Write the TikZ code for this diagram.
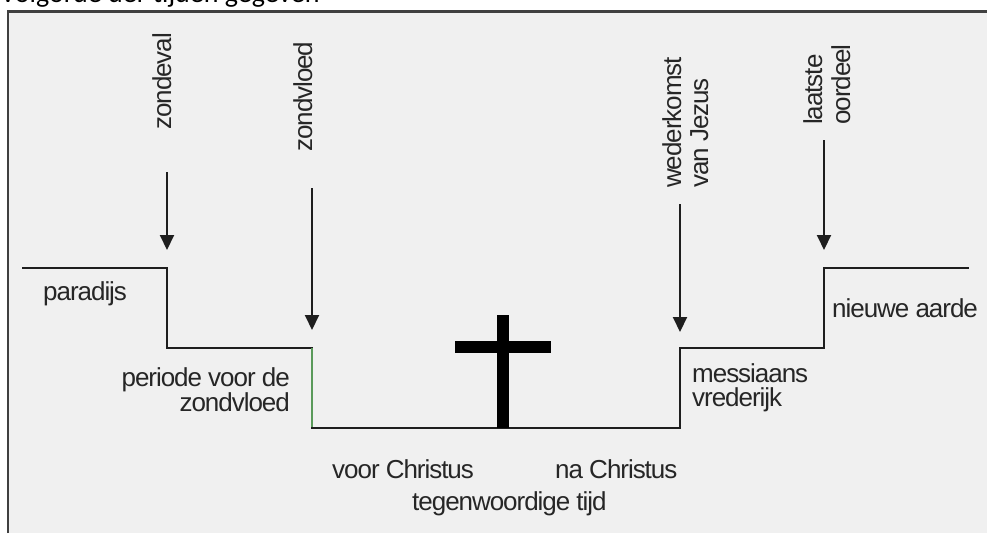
\documentclass[tikz,border=0pt]{standalone}
\usepackage{fontspec}
\setmainfont{Liberation Sans}
\newfontfamily\lbl{Liberation Sans}[LetterSpace=-4.0]
\newfontfamily\ttl{Carlito}
\usetikzlibrary{arrows.meta}
\definecolor{bg}{HTML}{F0F0F0}
\definecolor{framec}{HTML}{404040}
\definecolor{ink}{HTML}{1E1E1E}
\definecolor{txt}{HTML}{262626}
\definecolor{greenseg}{HTML}{5A9A5A}
\begin{document}
\begin{tikzpicture}[x=1pt,y=-1pt,
  lab/.style={font=\lbl\fontsize{26}{30}\selectfont, text=txt, inner sep=0pt, anchor=base west},
  labr/.style={lab, anchor=base east},
  vlab/.style={lab, rotate=90},
  stepline/.style={draw=ink, line width=2pt, line cap=rect},
  event/.style={draw=ink, line width=2pt, -{Triangle[width=14pt,length=15pt]}},
  crossbar/.style={fill=black, inner sep=0pt, draw=none},
]
\useasboundingbox (0,0) rectangle (987,533);
\fill[white] (0,0) rectangle (987,533);
\fill[bg] (8,11) rectangle (987,533);
\begin{scope}
\clip (0,0) rectangle (987,10);
\node[font=\ttl\fontsize{28}{32}\selectfont, text=black, inner sep=0pt, anchor=base west] (title) at (0,2) {Volgorde der tijden gegeven};
\end{scope}
\draw[framec, line width=2.6pt] (8,533) -- (8,11.5) -- (987,11.5);

% step line
\coordinate (p0) at (23,268);
\coordinate (p1) at (167,268);
\coordinate (p2) at (167,348);
\coordinate (p3) at (312,348);
\coordinate (p4) at (312,428);
\coordinate (p5) at (680,428);
\coordinate (p6) at (680,348);
\coordinate (p7) at (824,348);
\coordinate (p8) at (824,268);
\coordinate (p9) at (968,268);
\draw[stepline] (p0) -- (p1) -- (p2) -- (p3);
\draw[greenseg, line width=1.2pt] (p3) -- (p4);
\draw[stepline] (p4) -- (p5) -- (p6) -- (p7) -- (p8) -- (p9);

% cross
\node[crossbar, minimum width=12pt, minimum height=113pt] (crossv) at (503,371.5) {};
\node[crossbar, minimum width=96pt, minimum height=12pt] (crossh) at (503,347) {};

% event labels (rotated)
\node[vlab] (zondeval) at (171,130) {zondeval};
\node[vlab] (zondvloedv) at (312,152) {zondvloed};
\node[vlab] (weder) at (681,188) {wederkomst};
\node[vlab] (vanjezus) at (708,188) {van Jezus};
\node[vlab] (laatste) at (822,125) {laatste};
\node[vlab] (oordeel) at (850,125) {oordeel};

% arrows
\coordinate (a1s) at (167,172); \coordinate (a1e) at (167,250);
\coordinate (a2s) at (312,188); \coordinate (a2e) at (312,330);
\coordinate (a3s) at (680,204); \coordinate (a3e) at (680,332);
\coordinate (a4s) at (824,140); \coordinate (a4e) at (824,250);
\draw[event] (a1s) -- (a1e);
\draw[event] (a2s) -- (a2e);
\draw[event] (a3s) -- (a3e);
\draw[event] (a4s) -- (a4e);

% period labels
\node[lab] (paradijs) at (43,300) {paradijs};
\node[labr] (periode1) at (290,386) {periode voor de};
\node[labr] (periode2) at (290,411) {zondvloed};
\node[lab] (mess1) at (692,382) {messiaans};
\node[lab] (mess2) at (692,406) {vrederijk};
\node[lab] (nieuw) at (832,317) {nieuwe aarde};
\node[lab] (voorc) at (332,478) {voor Christus};
\node[lab] (nac) at (555,478) {na Christus};
\node[lab] (tegen) at (412,510) {tegenwoordige tijd};
\end{tikzpicture}
\end{document}
